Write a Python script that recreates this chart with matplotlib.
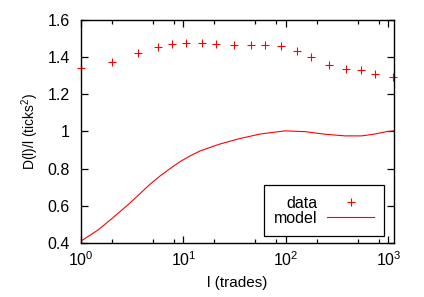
import numpy as np
import matplotlib
matplotlib.use("Agg")
import matplotlib.pyplot as plt
from matplotlib.ticker import FixedLocator, LogFormatterSciNotation, NullFormatter

plt.rcParams['font.family'] = ['Liberation Sans', 'DejaVu Sans']
plt.rcParams['mathtext.fontset'] = 'custom'
plt.rcParams['mathtext.rm'] = 'Liberation Sans'
plt.rcParams['mathtext.it'] = 'Liberation Sans:italic'

# data points (+ markers)
data_l = [1, 2, 3.6, 5.7, 7.7, 10.6, 15.3, 20.8, 31.3, 45.6, 62.8, 90,
          128, 177, 261, 385, 539, 743, 1099]
data_d = [1.34, 1.374, 1.421, 1.456, 1.473, 1.474, 1.474, 1.473, 1.465, 1.465,
          1.465, 1.458, 1.435, 1.403, 1.358, 1.338, 1.329, 1.311, 1.292]

# model curve
model_l = [1, 1.47, 2.05, 2.87, 3.76, 4.7, 5.9, 7.4, 9.23, 11.6, 14.5, 22.6,
           35.7, 56, 98, 153, 240, 377, 548, 736, 960, 1130]
model_d = [0.41, 0.47, 0.536, 0.605, 0.665, 0.715, 0.76, 0.80, 0.837, 0.868,
           0.895, 0.932, 0.962, 0.986, 1.003, 0.999, 0.985, 0.976, 0.976,
           0.986, 0.999, 1.003]

fig = plt.figure(figsize=(4.24, 2.97), dpi=100)
ax = fig.add_axes([0.191, 0.182, 0.738, 0.751])

ax.plot(data_l, data_d, '+', color='#ff0000', markersize=6, mew=0.8,
        label='data', clip_on=False)
ax.plot(model_l, model_d, '-', color='#ff0000', lw=0.8, label='model')

ax.set_xscale('log')
ax.set_xlim(1, 1130)
ax.set_ylim(0.4, 1.6)
ax.set_yticks(np.arange(0.4, 1.61, 0.2))
ax.set_yticklabels(['0.4', '0.6', '0.8', '1', '1.2', '1.4', '1.6'])
ax.xaxis.set_major_locator(FixedLocator([1, 10, 100, 1000]))
ax.xaxis.set_major_formatter(LogFormatterSciNotation())
minors = [m * 10 ** k for k in range(3) for m in (2, 5, 8)]
ax.xaxis.set_minor_locator(FixedLocator(minors))
ax.xaxis.set_minor_formatter(NullFormatter())
ax.yaxis.set_minor_locator(FixedLocator([]))

ax.tick_params(which='both', direction='in', top=True, right=True,
               labelsize=11.5, width=0.9, colors='black')
ax.tick_params(which='major', length=5)
ax.tick_params(which='minor', length=3)
ax.tick_params(axis='y', pad=8)
ax.tick_params(axis='x', pad=5)
for s in ax.spines.values():
    s.set_linewidth(1.0)

ax.set_xlabel('l (trades)', fontsize=11, labelpad=5)
ax.set_ylabel('D(l)/l (ticks$^2$)', fontsize=10, labelpad=5)

leg = ax.legend(loc='lower right', bbox_to_anchor=(0.969, 0.031),
                borderaxespad=0, markerfirst=False, fontsize=11.5,
                fancybox=False, framealpha=1, edgecolor='black',
                handlelength=2.9, handletextpad=0.6, labelspacing=0.0,
                borderpad=0.65)
leg.get_frame().set_linewidth(0.9)

fig.savefig('out.png', dpi=100)
